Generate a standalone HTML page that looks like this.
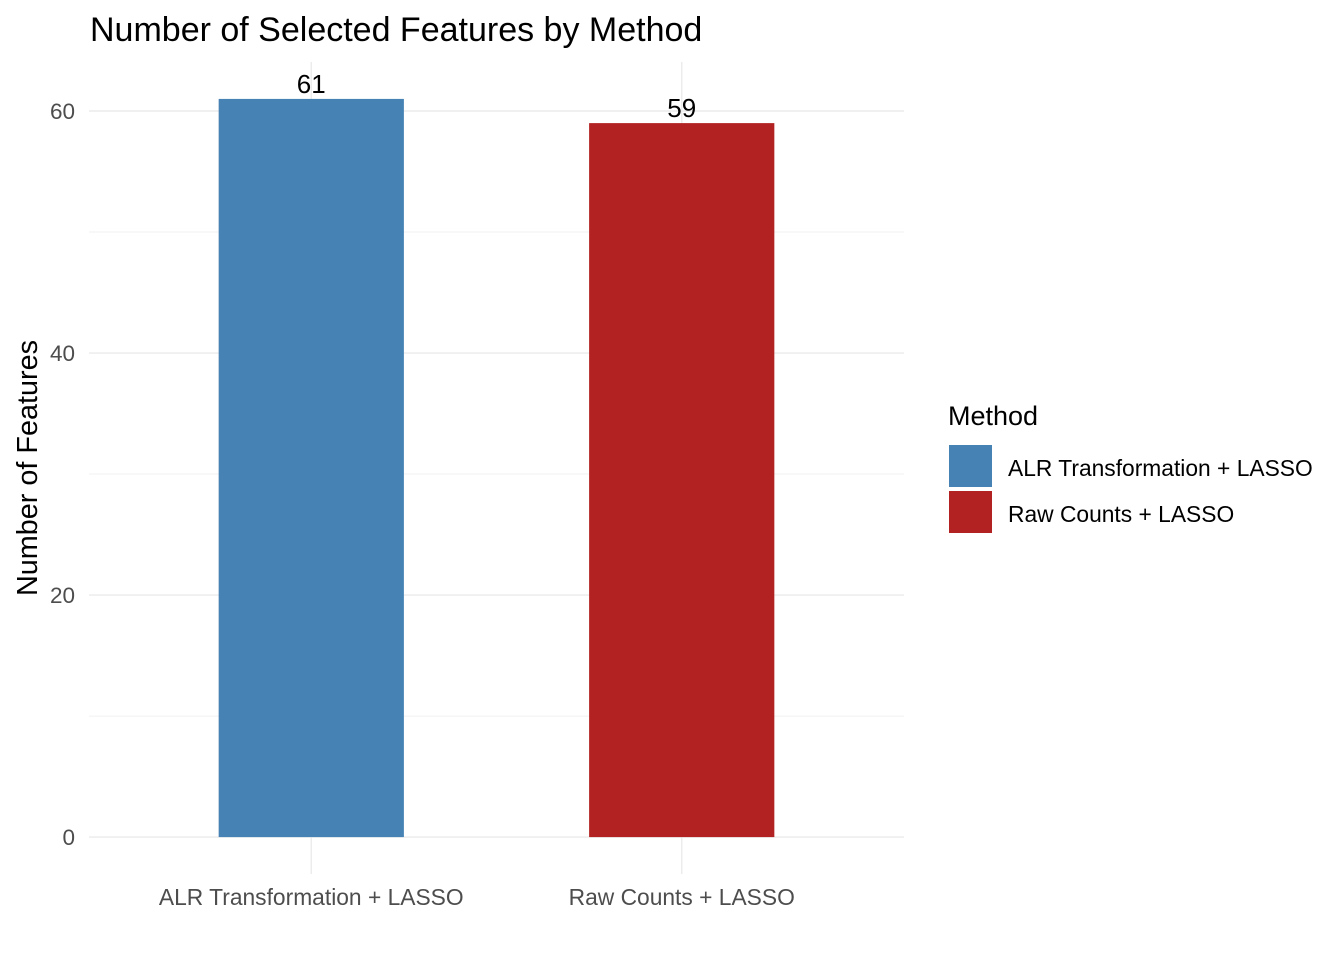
<!DOCTYPE html>
<html><head><meta charset="utf-8"><style>
html,body{margin:0;padding:0;background:#fff;}
svg text{font-family:"Liberation Sans",Arial,sans-serif;}
</style></head><body>
<svg id="chart" width="1344" height="960" xmlns="http://www.w3.org/2000/svg">
<text x="90" y="41" font-size="34" fill="#000">Number of Selected Features by Method</text>
<g id="grid"></g>
<g id="bars"></g>
<g id="labels"></g>
<text transform="translate(37,468) rotate(-90)" text-anchor="middle" font-size="28.8" fill="#000">Number of Features</text>
<g>
<text x="948" y="425" font-size="27" fill="#000">Method</text>
<rect x="949" y="445" width="43" height="42" fill="#4682B4"/>
<text x="1008" y="476" font-size="22.8" fill="#000">ALR Transformation + LASSO</text>
<rect x="949" y="491" width="43" height="42" fill="#B22222"/>
<text x="1008" y="522" font-size="22.8" fill="#000">Raw Counts + LASSO</text>
</g>
</svg>
<script>
const categories = ["ALR Transformation + LASSO", "Raw Counts + LASSO"];
const values = [61, 59];
const colors = ["#4682B4", "#B22222"];
const majorTicks = [0, 20, 40, 60];
const minorTicks = [10, 30, 50];

const NS = "http://www.w3.org/2000/svg";
const px0 = 89, px1 = 904, py0 = 62, py1 = 874;
const ymin = -3.05, ymax = 64.05;
const y = v => py1 - (v - ymin) / (ymax - ymin) * (py1 - py0);
const unit = (px1 - px0) / (categories.length + 0.2);
const x = i => px0 + (i + 0.6) * unit;
const bw = unit * 0.5;

function mk(tag, attrs, parent) {
  const e = document.createElementNS(NS, tag);
  for (const k in attrs) e.setAttribute(k, attrs[k]);
  parent.appendChild(e);
  return e;
}
const grid = document.getElementById('grid');
const bars = document.getElementById('bars');
const labels = document.getElementById('labels');

minorTicks.forEach(t => {
  const l = mk('line', {x1: px0, x2: px1, y1: y(t), y2: y(t), stroke: '#f0f0f0', 'stroke-width': 1}, grid);
  
  
});
majorTicks.forEach(t => {
  const l = mk('line', {x1: px0, x2: px1, y1: y(t), y2: y(t), stroke: '#ebebeb', 'stroke-width': 1.4}, grid);
  
  
  const tx = mk('text', {x: 75, y: y(t) + 8, 'text-anchor': 'end', 'font-size': 22.5, fill: '#4d4d4d'}, labels);
  tx.textContent = t;
  
  
});
categories.forEach((c, i) => {
  const l = mk('line', {x1: x(i), x2: x(i), y1: py0, y2: py1, stroke: '#ebebeb', 'stroke-width': 1.4}, grid);
  
  
  const r = mk('rect', {x: x(i) - bw / 2, y: y(values[i]), width: bw, height: y(0) - y(values[i]), fill: colors[i]}, bars);
  
  
  const v = mk('text', {x: x(i), y: y(values[i]) - 6, 'text-anchor': 'middle', 'font-size': 26, fill: '#000'}, labels);
  v.textContent = values[i];
  
  
  const xt = mk('text', {x: x(i), y: 905, 'text-anchor': 'middle', 'font-size': 22.8, fill: '#4d4d4d'}, labels);
  xt.textContent = c;
  
  
});
</script>
</body></html>
